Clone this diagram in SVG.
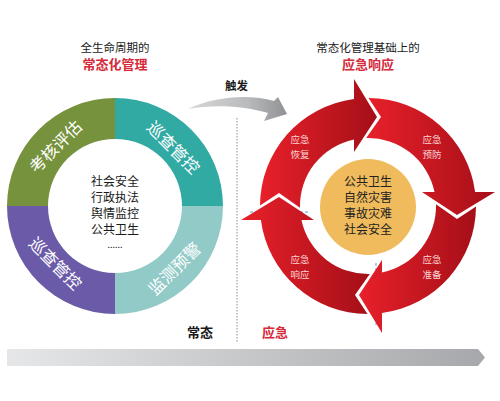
<svg xmlns="http://www.w3.org/2000/svg" width="500" height="401" viewBox="0 0 500 401">
<defs>
<style>
text{font-family:"Noto Sans CJK SC","Noto Sans",sans-serif;dominant-baseline:central;text-anchor:middle}
.t{font-size:11.5px;fill:#1a1a1a}
.r{font-size:13px;fill:#d42a3a;font-weight:bold}
.q{font-size:16.5px;fill:#ffffff}
.in{font-size:12px;fill:#1a1a1a}
.y{font-size:12px;fill:#222222}
.w{font-size:9.5px;fill:#f8d4d4}
.seg{fill:url(#red)}
</style>
<linearGradient id="red" x1="0" y1="0" x2="1" y2="0">
<stop offset="0" stop-color="#e8202a"/>
<stop offset="1" stop-color="#a50f18"/>
</linearGradient>
<linearGradient id="gray" x1="0" y1="0" x2="1" y2="0">
<stop offset="0" stop-color="#d6d7d9"/>
<stop offset="0.6" stop-color="#b9bbbd"/>
<stop offset="1" stop-color="#8f9194"/>
</linearGradient>
<linearGradient id="bar" x1="0" y1="0" x2="1" y2="0">
<stop offset="0" stop-color="#e6e7e8"/>
<stop offset="1" stop-color="#a6a8ab"/>
</linearGradient>
</defs>
<rect width="500" height="401" fill="#ffffff"/>

<g id="title-left">
<text class="t" x="115" y="47">全生命周期的</text>
<text class="r" x="115" y="63">常态化管理</text>
</g>
<g id="title-right">
<text class="t" x="368" y="47">常态化管理基础上的</text>
<text class="r" x="368" y="63">应急响应</text>
</g>

<g id="left-ring">
<path d="M115,98 A108,108 0 0 0 7,206 L48,206 A67,67 0 0 1 115,139 Z" fill="#76923c"/>
<path d="M115,98 A108,108 0 0 1 223,206 L182,206 A67,67 0 0 0 115,139 Z" fill="#31aaa4"/>
<path d="M223,206 A108,108 0 0 1 115,314 L115,273 A67,67 0 0 0 182,206 Z" fill="#92cac7"/>
<path d="M115,314 A108,108 0 0 1 7,206 L48,206 A67,67 0 0 0 115,273 Z" fill="#6a5aa8"/>
<text class="q" transform="translate(55,146) rotate(-45)">考核评估</text>
<text class="q" transform="translate(174,147) rotate(45)">巡查管控</text>
<text class="q" transform="translate(174,268) rotate(-45)">监测预警</text>
<text class="q" transform="translate(56,263) rotate(45)">巡查管控</text>
</g>
<g id="left-center">
<text class="in" x="115" y="180">社会安全</text>
<text class="in" x="115" y="196">行政执法</text>
<text class="in" x="115" y="212">舆情监控</text>
<text class="in" x="115" y="228">公共卫生</text>
<text x="115" y="244" style="font-size:9px;fill:#1a1a1a">......</text>
</g>

<g id="connectors">
<path d="M188,109 C215,96 250,94 274,101 L278,97 L287,114 L264,121 L268,113 C245,106 215,104 188,109 Z" fill="url(#gray)"/>
<line x1="237" y1="118" x2="237" y2="343" stroke="#8a8a8a" stroke-width="1" stroke-dasharray="1.5 1.5"/>
<line x1="250" y1="212" x2="310" y2="212" stroke="#5b9bd5" stroke-width="1" stroke-dasharray="3 2"/>
<line x1="376" y1="263" x2="376" y2="325" stroke="#5b9bd5" stroke-width="1" stroke-dasharray="3 2"/>
</g>
<g id="trigger">
<text x="236.5" y="85" style="font-size:11.5px;font-weight:bold;fill:#1a1a1a">触发</text>
</g>

<g id="red-ring">
<path class="seg" d="M368.5,98 A108,108 0 0 1 475.09,192 L495,192 L457,215 L422,192 L434.54,192 A68,68 0 0 0 366.2,138 L381,117 Z"/>
<path class="seg" d="M476,206.5 A108,108 0 0 1 382,313.09 L382,333 L359,295 L382,260 L382,272.54 A68,68 0 0 0 436,204.2 L457,219 Z"/>
<path class="seg" d="M367.5,314 A108,108 0 0 1 260.91,220 L241,220 L279,197 L314,220 L301.46,220 A68,68 0 0 0 369.8,274 L355,295 Z"/>
<path class="seg" d="M260,205.5 A108,108 0 0 1 354,98.91 L354,79 L377,117 L354,152 L354,139.46 A68,68 0 0 0 300,207.8 L279,193 Z"/>
<text class="w" x="300" y="139">应急</text><text class="w" x="300" y="153.5">恢复</text>
<text class="w" x="432" y="139">应急</text><text class="w" x="432" y="153.5">预防</text>
<text class="w" x="432" y="259">应急</text><text class="w" x="432" y="273.5">准备</text>
<text class="w" x="300" y="259">应急</text><text class="w" x="300" y="273.5">响应</text>
</g>
<g id="red-center">
<circle cx="368" cy="207" r="48" fill="#efbb5c"/>
<text class="y" x="368" y="180">公共卫生</text>
<text class="y" x="368" y="196">自然灾害</text>
<text class="y" x="368" y="212">事故灾难</text>
<text class="y" x="368" y="228">社会安全</text>
</g>

<g id="timeline">
<polygon points="7,349 478,349 485,357.5 478,366 7,366" fill="url(#bar)"/>
<text x="200" y="331" style="font-size:13px;font-weight:bold;fill:#1a1a1a">常态</text>
<text x="275" y="331" style="font-size:13px;font-weight:bold;fill:#d42a3a">应急</text>
</g>
</svg>
